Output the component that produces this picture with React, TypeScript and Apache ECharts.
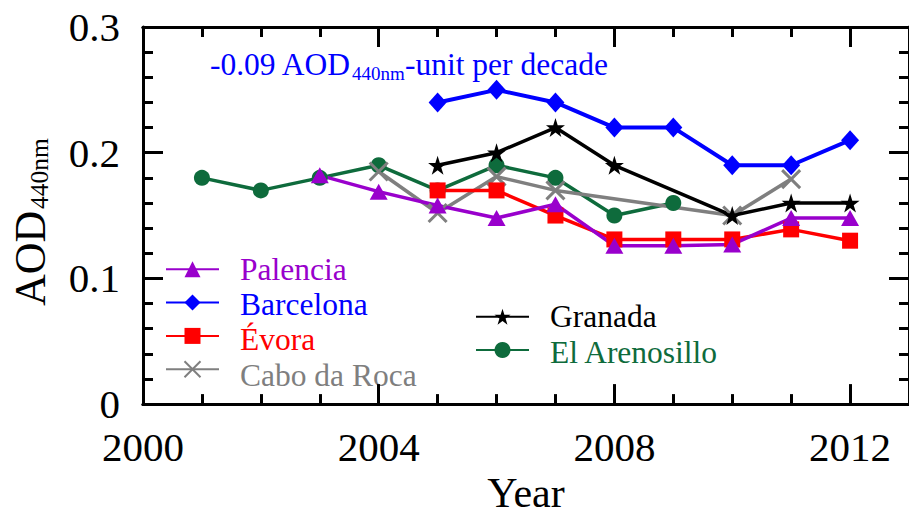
import React, { useEffect, useRef } from 'react';
import * as echarts from 'echarts';

const FONT = '"Liberation Serif", "Times New Roman", Times, serif';

// Data (year, AOD at 440 nm)
const palenciaYears = [2003, 2004, 2005, 2006, 2007, 2008, 2009, 2010, 2011, 2012];
const palencia = [0.182, 0.169, 0.158, 0.148, 0.159, 0.126, 0.126, 0.127, 0.148, 0.148];

const barcelonaYears = [2005, 2006, 2007, 2008, 2009, 2010, 2011, 2012];
const barcelona = [0.24, 0.25, 0.24, 0.22, 0.22, 0.19, 0.19, 0.21];

const evoraYears = [2005, 2006, 2007, 2008, 2009, 2010, 2011, 2012];
const evora = [0.17, 0.17, 0.15, 0.131, 0.131, 0.131, 0.139, 0.13];

const caboYears = [2004, 2005, 2006, 2007, 2010, 2011];
const cabo = [0.185, 0.152, 0.181, 0.17, 0.15, 0.179];

const granadaYears = [2005, 2006, 2007, 2008, 2010, 2011, 2012];
const granada = [0.19, 0.2, 0.22, 0.19, 0.15, 0.16, 0.16];

const arenosilloYears = [2001, 2002, 2003, 2004, 2005, 2006, 2007, 2008, 2009];
const arenosillo = [0.18, 0.17, 0.18, 0.19, 0.17, 0.19, 0.18, 0.15, 0.16];

const legendLeftNames = ['Palencia', 'Barcelona', 'Évora', 'Cabo da Roca'];
const legendRightNames = ['Granada', 'El Arenosillo'];

const xTicks = { min: 2000, max: 2013, major: 4, minor: 1 };
const yTicks = { min: 0, max: 0.3, interval: 0.1 };

const COLORS: Record<string, string> = {
  Palencia: '#9900CC',
  Barcelona: '#0000FF',
  'Évora': '#FF0000',
  'Cabo da Roca': '#7F7F7F',
  Granada: '#000000',
  'El Arenosillo': '#0E6B3C',
};

const STAR =
  'path://M0,-100L22.45,-30.9L95.1,-30.9L36.3,11.8L58.8,80.9L0,38.2L-58.8,80.9L-36.3,11.8L-95.1,-30.9L-22.45,-30.9Z';
const CROSS = 'path://M0,0L20,20M20,0L0,20';

const zip = (xs: number[], ys: number[]) => xs.map((x, i) => [x, ys[i]]);

export default function App() {
  const ref = useRef<HTMLDivElement>(null);

  useEffect(() => {
    if (!ref.current) return;
    const chart = echarts.init(ref.current, null, { renderer: 'svg' });

    const axisLine = { show: true, lineStyle: { color: '#000', width: 3 } };
    const tickStyle = { color: '#000', width: 3 };

    const mkX = (position: string, interval: number, len: number, labels: boolean, extra: any = {}) => ({
      type: 'value',
      position,
      min: xTicks.min,
      max: xTicks.max,
      interval,
      axisLine,
      axisTick: { show: true, inside: true, length: len, lineStyle: tickStyle },
      splitLine: { show: false },
      axisLabel: labels
        ? {
            show: true,
            fontFamily: FONT,
            fontSize: 41,
            color: '#000',
            margin: 22,
            showMaxLabel: false,
            formatter: (v: number) => String(v),
          }
        : { show: false },
      ...extra,
    });

    const mkY = (position: string, labels: boolean) => ({
      type: 'value',
      position,
      min: yTicks.min,
      max: yTicks.max,
      interval: yTicks.interval,
      axisLine,
      axisTick: { show: true, inside: true, length: 20, lineStyle: tickStyle },
      minorTick: { show: true, splitNumber: 5, length: 10, lineStyle: tickStyle },
      splitLine: { show: false },
      minorSplitLine: { show: false },
      axisLabel: labels
        ? {
            show: true,
            fontFamily: FONT,
            fontSize: 41,
            color: '#000',
            margin: 23,
            formatter: (v: number) => (v === 0 ? '0' : v.toFixed(1)),
          }
        : { show: false },
    });

    const lineSeries = (
      name: string,
      xs: number[],
      ys: number[],
      symbol: string,
      symbolSize: any,
      width = 3.5,
      borderWidth = 0
    ) => ({
      name,
      type: 'line',
      data: zip(xs, ys),
      xAxisIndex: 0,
      yAxisIndex: 0,
      symbol,
      symbolSize,
      showSymbol: true,
      clip: false,
      lineStyle: { color: COLORS[name], width },
      itemStyle: { color: COLORS[name], borderColor: COLORS[name], borderWidth },
      emphasis: { disabled: true },
    });

    // legend geometry
    const ITEM_H = 20;
    const STEP = 35.3;
    const leftLegend = { left: 165, firstCenter: 269.3, textX: 240 };
    const rightLegend = { left: 475, firstCenter: 316.7, textX: 550 };

    const legendCommon = {
      show: true,
      orient: 'vertical',
      padding: 0,
      itemGap: STEP - ITEM_H,
      itemWidth: 53,
      itemHeight: ITEM_H,
      selectedMode: false,
      formatter: () => '',
      textStyle: { fontSize: 1 },
    };

    const legendLabels = (names: string[], cfg: { textX: number; firstCenter: number }) =>
      names.map((name, i) => ({
        type: 'text',
        x: cfg.textX,
        y: cfg.firstCenter + i * STEP,
        style: {
          text: name,
          fontFamily: FONT,
          fontSize: 31.5,
          fill: COLORS[name],
          align: 'left',
          verticalAlign: 'middle',
        },
      }));

    const option: any = {
      animation: false,
      backgroundColor: '#fff',
      textStyle: { fontFamily: FONT },
      grid: { left: 143, top: 27, right: -4, bottom: 108, containLabel: false },
      xAxis: [
        mkX('bottom', xTicks.major, 20, true, {
          name: 'Year',
          nameLocation: 'middle',
          nameGap: 64,
          nameTextStyle: { fontFamily: FONT, fontSize: 42, color: '#000' },
        }),
        mkX('bottom', xTicks.minor, 10, false),
        mkX('top', xTicks.major, 20, false),
        mkX('top', xTicks.minor, 10, false),
      ],
      yAxis: [mkY('left', true), mkY('right', false)],
      legend: [
        {
          ...legendCommon,
          left: leftLegend.left,
          top: leftLegend.firstCenter - ITEM_H / 2,
          data: legendLeftNames,
        },
        {
          ...legendCommon,
          left: rightLegend.left,
          top: rightLegend.firstCenter - ITEM_H / 2,
          data: legendRightNames,
        },
      ],
      series: [
        lineSeries('El Arenosillo', arenosilloYears, arenosillo, 'circle', 16),
        lineSeries('Cabo da Roca', caboYears, cabo, CROSS, 18, 3.5, 3),
        lineSeries('Évora', evoraYears, evora, 'rect', 16),
        lineSeries('Palencia', palenciaYears, palencia, 'triangle', [18, 16]),
        lineSeries('Granada', granadaYears, granada, STAR, 19),
        lineSeries('Barcelona', barcelonaYears, barcelona, 'diamond', [18, 20], 4),
      ],
      graphic: [
        ...legendLabels(legendLeftNames, leftLegend),
        ...legendLabels(legendRightNames, rightLegend),
        {
          type: 'text',
          x: 210,
          y: 64,
          style: { text: '-0.09 AOD', fontFamily: FONT, fontSize: 31.5, fill: '#0000FF', align: 'left', verticalAlign: 'middle' },
        },
        {
          type: 'text',
          x: 352,
          y: 73.5,
          style: { text: '440nm', fontFamily: FONT, fontSize: 19, fill: '#0000FF', align: 'left', verticalAlign: 'middle' },
        },
        {
          type: 'text',
          x: 405,
          y: 64,
          style: { text: '-unit per decade', fontFamily: FONT, fontSize: 31.5, fill: '#0000FF', align: 'left', verticalAlign: 'middle' },
        },
        {
          type: 'text',
          x: 30,
          y: 306,
          rotation: Math.PI / 2,
          style: { text: 'AOD', fontFamily: FONT, fontSize: 44, fill: '#000', align: 'left', verticalAlign: 'middle' },
        },
        {
          type: 'text',
          x: 39,
          y: 209,
          rotation: Math.PI / 2,
          style: { text: '440nm', fontFamily: FONT, fontSize: 25.5, fill: '#000', align: 'left', verticalAlign: 'middle' },
        },
      ],
    };

    chart.setOption(option);
    return () => chart.dispose();
  }, []);

  return (
    <div
      ref={ref}
      style={{ position: 'fixed', left: 0, top: 0, width: 909, height: 519, background: '#fff' }}
    />
  );
}
